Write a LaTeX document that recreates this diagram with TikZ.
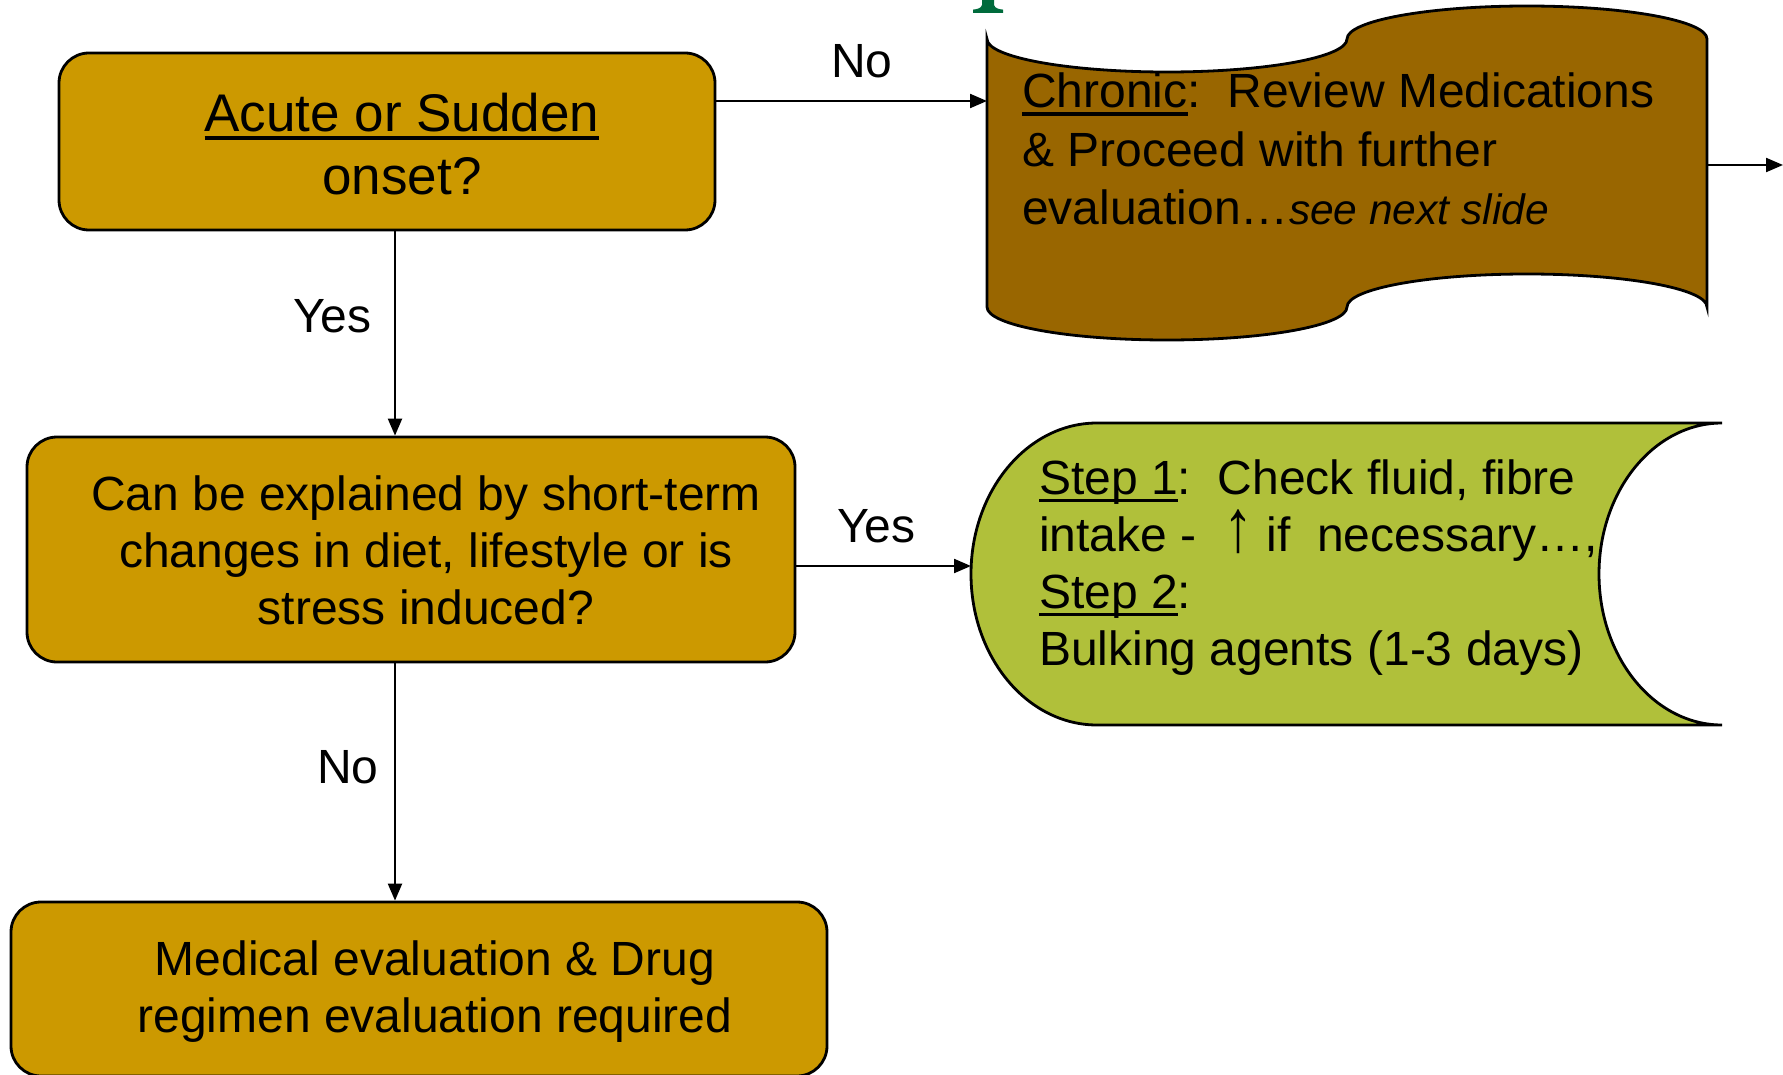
\documentclass[tikz,border=0pt]{standalone}
\usepackage{fontspec}
\setmainfont{Liberation Sans}
\usetikzlibrary{arrows.meta}
\definecolor{gold}{HTML}{CC9900}
\definecolor{brownfill}{HTML}{996600}
\definecolor{olivefill}{HTML}{B0C03A}
\definecolor{titlegreen}{HTML}{006B3C}
\newcommand\myul[1]{\setbox0\hbox{#1}\rlap{\rule[-8pt]{\wd0}{3.5pt}}\box0}
\newcommand\tallup{\scalebox{1.25}[1.55]{↑}}
\frenchspacing
\tikzset{
  gbox/.style={draw=black, line width=2.8pt, fill=gold, rounded corners=30pt, inner sep=0pt},
  shapeline/.style={draw=black, line width=2.8pt},
  arr/.style={line width=2.2pt, -{Triangle[length=17pt,width=14pt]}},
  big/.style={font=\fontsize{53}{63}\selectfont, inner sep=0pt},
  txt/.style={font=\fontsize{48}{57}\selectfont, inner sep=0pt},
  lbl/.style={font=\fontsize{48}{57}\selectfont, inner sep=0pt, anchor=base west},
}
\begin{document}
\begin{tikzpicture}[x=1pt, y=-1pt]
\useasboundingbox (0,0) rectangle (1783,1075);

% partial title glyph at top
\fill[titlegreen] (982,-1) -- (982,5) .. controls (981,8.5) and (977,9.2) .. (973,9.6) -- (973,13) -- (1003,13) -- (1003,9.6) .. controls (999,9.2) and (995,8.5) .. (994,5) -- (994,-1) -- cycle;

% rounded boxes
\node[gbox, minimum width=656pt, minimum height=177pt] (box1) at (387,141.5) {};
\node[gbox, minimum width=768pt, minimum height=225pt] (box2) at (411,549.5) {};
\node[gbox, minimum width=816pt, minimum height=174pt] (box3) at (419,989) {};

% chronic: punched tape shape
\path[shapeline, fill=brownfill]
  (987,39) .. controls (987,57.2) and (1067.6,72) .. (1167,72)
  .. controls (1266.4,72) and (1347,57.2) .. (1347,39)
  .. controls (1347,20.8) and (1427.6,6) .. (1527,6)
  .. controls (1626.4,6) and (1707,20.8) .. (1707,39)
  -- (1707,307)
  .. controls (1707,288.8) and (1626.4,274) .. (1527,274)
  .. controls (1427.6,274) and (1347,288.8) .. (1347,307)
  .. controls (1347,325.2) and (1266.4,340) .. (1167,340)
  .. controls (1067.6,340) and (987,325.2) .. (987,307)
  -- cycle;
\coordinate (chrIn) at (987,101);
\coordinate (chrOut) at (1707,165);
\coordinate (offpage) at (1783,165);

% step: online storage shape
\path[shapeline, fill=olivefill]
  (1097,423) -- (1722,423)
  .. controls (1654.1,423) and (1599,490.6) .. (1599,574)
  .. controls (1599,657.4) and (1654.1,725) .. (1722,725)
  -- (1097,725)
  .. controls (1027.4,725) and (971,657.4) .. (971,574)
  .. controls (971,490.6) and (1027.4,423) .. (1097,423)
  -- cycle;
\coordinate (stepIn) at (971,566);

% texts (base anchor = baseline of last line)
\node[big, align=center, anchor=base] (t1) at (402,195) {\myul{Acute or Sudden}\\onset?};
\node[txt, align=center, anchor=base] (t2) at (426,624) {Can be explained by short-term\\changes in diet, lifestyle or is\\stress induced?};
\node[txt, align=center, anchor=base] (t3) at (435,1032) {Medical evaluation \& Drug\\regimen evaluation required};
\node[font=\fontsize{48}{58.5}\selectfont, inner sep=0pt, align=left, anchor=base west] (t4) at (1022,225) {\myul{Chronic}:\ \ Review Medications\\\& Proceed with further\\evaluation…{\fontsize{42.5}{58.5}\selectfont\itshape see next slide}};
\node[txt, align=left, anchor=base west] (t5) at (1039,665) {\myul{Step 1}:\ \ Check fluid, fibre\\intake -\ \ \tallup\ if\ \ necessary…,\\\myul{Step 2}:\\Bulking agents (1-3 days)};

% connectors
\draw[arr] (box1.east |- chrIn) -- (chrIn);
\draw[arr] (chrOut) -- (offpage);
\draw[arr] (box1.south -| 395,0) -- (box2.north -| 395,0);
\draw[arr] (box2.south -| 395,0) -- (box3.north -| 395,0);
\draw[arr] (box2.east |- stepIn) -- (stepIn);

% labels
\node[lbl] (lNo1) at (831,78) {No};
\node[lbl] (lYes1) at (293,333) {Yes};
\node[lbl] (lYes2) at (837,542) {Yes};
\node[lbl] (lNo2) at (317,783) {No};
\end{tikzpicture}
\end{document}
